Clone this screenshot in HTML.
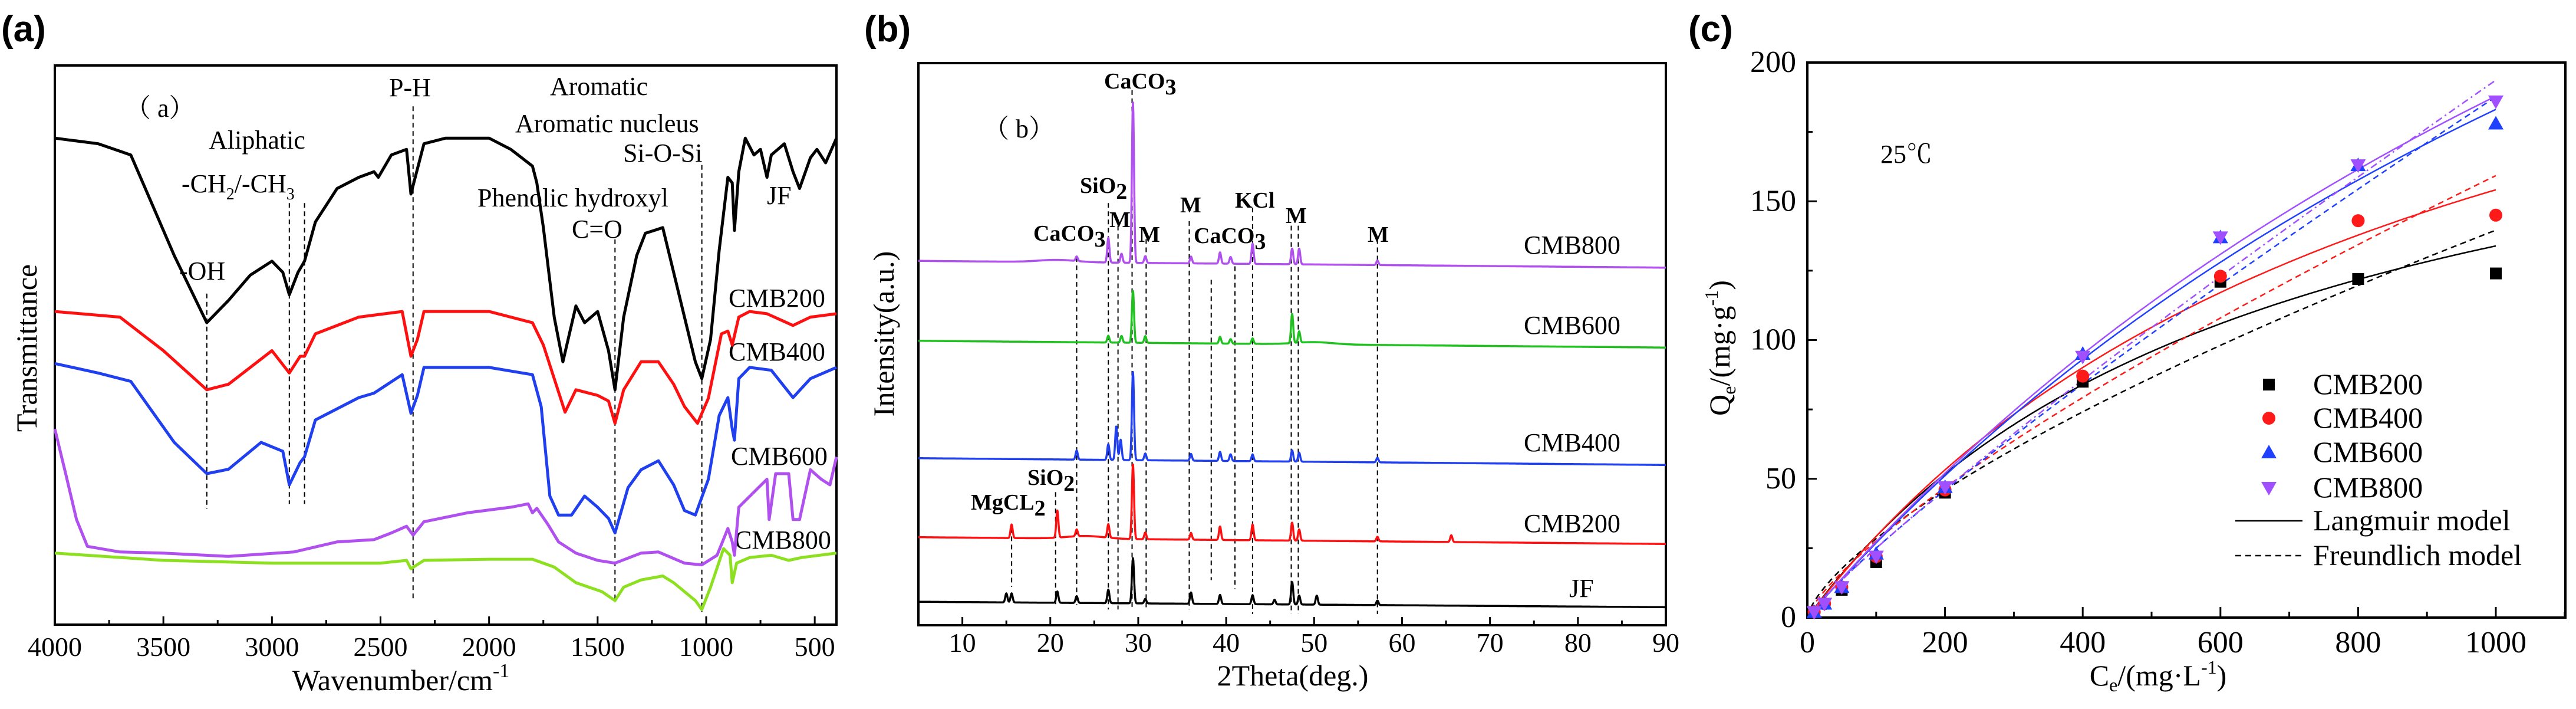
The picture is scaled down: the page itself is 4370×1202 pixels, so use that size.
<!DOCTYPE html>
<html><head><meta charset="utf-8"><style>
html,body{margin:0;padding:0;background:#fff;overflow:hidden;}
svg{display:block;}
text{font-family:"Liberation Serif","Noto Serif CJK SC",serif;fill:#000;}
.pl{font-family:"Liberation Sans",sans-serif;font-weight:bold;font-size:62px;}
.an{font-size:44px;}
.bd{font-weight:bold;font-size:38px;}
.tk{font-size:46px;}
.ti{font-size:50px;}
</style></head><body>
<svg id="fig" width="4370" height="1202" viewBox="0 0 4370 1202" xmlns="http://www.w3.org/2000/svg">
<text class="pl" x="2" y="70">(a)</text>
<text class="pl" x="1466" y="70">(b)</text>
<text class="pl" x="2864" y="70">(c)</text>

<g id="pa">
<rect x="93" y="111" width="1326" height="948" fill="none" stroke="#000" stroke-width="4"/>
<text class="an" x="212" y="198">（ a）</text>
<text class="an" x="436" y="252" text-anchor="middle">Aliphatic</text>
<text class="an" x="308" y="326">-CH<tspan font-size="28" dy="12">2</tspan><tspan dy="-12">/-CH</tspan><tspan font-size="28" dy="12">3</tspan></text>
<text class="an" x="304" y="474">-OH</text>
<text class="an" x="660" y="163">P-H</text>
<text class="an" x="933" y="161">Aromatic</text>
<text class="an" x="874" y="224">Aromatic nucleus</text>
<text class="an" x="1057" y="274">Si-O-Si</text>
<text class="an" x="810" y="350">Phenolic hydroxyl</text>
<text class="an" x="970" y="403">C=O</text>
<text class="an" x="1301" y="346">JF</text>
<text class="an" x="1236" y="520">CMB200</text>
<text class="an" x="1236" y="611">CMB400</text>
<text class="an" x="1240" y="788">CMB600</text>
<text class="an" x="1246" y="930">CMB800</text>
<text class="ti" x="680" y="1170" text-anchor="middle">Wavenumber/cm<tspan font-size="34" dy="-22">-1</tspan></text>
<text class="ti" transform="translate(62,590) rotate(-90)" text-anchor="middle">Transmittance</text>
</g>

<g id="pb">
<rect x="1558" y="107" width="1268" height="953" fill="none" stroke="#000" stroke-width="4"/>
<text class="an" x="1668" y="233">（ b）</text>
<text class="bd" x="1873" y="150">CaCO<tspan dy="10">3</tspan></text>
<text class="bd" x="1832" y="327">SiO<tspan dy="10">2</tspan></text>
<text class="bd" x="1882" y="385">M</text>
<text class="bd" x="1753" y="408">CaCO<tspan dy="10">3</tspan></text>
<text class="bd" x="1932" y="410">M</text>
<text class="bd" x="2002" y="360">M</text>
<text class="bd" x="2025" y="412">CaCO<tspan dy="10">3</tspan></text>
<text class="bd" x="2095" y="352">KCl</text>
<text class="bd" x="2181" y="378" font-size="44">M</text>
<text class="bd" x="2320" y="410" font-size="44">M</text>
<text class="bd" x="1647" y="864" font-size="34">MgCL<tspan dy="10">2</tspan></text>
<text class="bd" x="1743" y="822">SiO<tspan dy="10">2</tspan></text>
<text class="an" x="2585" y="430">CMB800</text>
<text class="an" x="2585" y="566">CMB600</text>
<text class="an" x="2585" y="765">CMB400</text>
<text class="an" x="2585" y="902">CMB200</text>
<text class="an" x="2662" y="1012">JF</text>
<text class="ti" x="2193" y="1162" text-anchor="middle">2Theta(deg.)</text>
<text class="ti" transform="translate(1516,566) rotate(-90)" text-anchor="middle">Intensity(a.u.)</text>
</g>

<g id="pc">
<rect x="3066" y="106" width="1286" height="941" fill="none" stroke="#000" stroke-width="4"/>
<text class="an" x="3190" y="276" font-size="48">25℃</text>
<text class="ti" x="3661" y="1162" text-anchor="middle" font-size="52">C<tspan font-size="32" dy="10">e</tspan><tspan dy="-10">/(mg·L</tspan><tspan font-size="32" dy="-20">-1</tspan><tspan dy="20">)</tspan></text>
<text class="ti" transform="translate(2934,590) rotate(-90)" text-anchor="middle" font-size="52">Q<tspan font-size="32" dy="10">e</tspan><tspan dy="-10">/(mg·g</tspan><tspan font-size="32" dy="-20">-1</tspan><tspan dy="20">)</tspan></text>
</g>
</svg>
<script>
// ---------- FTIR data ----------
const jfWn=[4000,3800,3650,3550,3450,3300,3200,3100,3000,2950,2920,2880,2850,2800,2700,2600,2530,2510,2450,2380,2360,2340,2300,2200,2000,1900,1800,1780,1750,1700,1660,1600,1560,1500,1450,1420,1380,1320,1280,1240,1200,1150,1100,1050,1020,980,940,900,880,870,850,820,780,750,720,700,640,600,570,520,490,450,400];
const jfT=[87,86,84,75,66,54,58,62.5,65,63,59,63,65,72,78,80,81,80,84,85,77,80,86,87,87,85,82,79,71,55,47,57,54,56,49,42,55,66,70,70.5,71,63,55,47,44,51,67,80,79,70.5,81,87,84,85,80,84,86,81,78,83.5,85,82.6,87];
const c200Wn=[4000,3700,3500,3300,3200,3000,2920,2870,2850,2800,2600,2400,2360,2330,2300,2000,1800,1750,1700,1650,1600,1500,1450,1420,1380,1300,1220,1150,1100,1040,990,930,900,880,850,800,720,600,520,400];
const c200T=[56,55,49,42,43,49,45,48,48,52,55,56,48,51,56,56,54,50,44,38,42,41,40,36,42,47,47,43,39,36,40.5,52,52.5,50,55,56,55.6,53.5,55,55.6];
const c400Wn=[4000,3800,3650,3450,3300,3200,3050,2950,2920,2870,2850,2800,2600,2530,2400,2360,2330,2300,2000,1800,1760,1720,1680,1620,1560,1500,1450,1420,1360,1300,1220,1150,1100,1050,990,940,900,880,870,850,800,700,600,520,400];
const c400T=[46.7,45,43.5,32.6,27,27.8,32.6,31,25,29,30,36.6,40.6,41.4,44.7,37.8,41,46,46,44.7,39,23,19.6,19.6,23,21,19,16.4,24.5,27.7,29.3,25,20.4,19.6,26,37.4,40.6,35,33,44,46,45.5,40.6,44,46];
const c600Wn=[4000,3950,3900,3850,3700,3500,3200,2900,2700,2530,2450,2380,2350,2300,2100,1900,1820,1800,1780,1730,1680,1600,1500,1420,1300,1220,1100,1020,950,900,880,870,850,780,720,710,680,620,600,570,520,470,430,400];
const c600T=[35,27,18.8,14,13,12.8,12.2,13,14.8,15.2,16.4,17.6,16,18.4,20,21,21.6,20,20.8,18,14.8,12.8,11.5,11,12.8,13,11,10.7,12.4,17.2,14.8,12.4,21,23.7,26,18.8,27,27,18.8,18.8,27.7,26,25,30];
const c800Wn=[4000,3500,3000,2500,2380,2360,2300,2000,1800,1700,1600,1480,1420,1380,1300,1200,1150,1050,1020,980,920,890,880,860,800,700,620,560,400];
const c800T=[12.8,11.5,11,11,11.5,10,11.5,11.7,11.7,10.3,7.5,5.9,4.3,6.7,8,8.7,7.5,4.3,2.7,6.7,13.6,12.4,7.5,11,12,12.4,11.5,12,12.8];
const ftirTicks=[4000,3500,3000,2500,2000,1500,1000,500];
const ftirGuideWn=[3300,2920,2850,2350,1420,1020];
const ftirGuideTop=[59.2,75.4,75.4,92.7,68.9,82.2];
const ftirGuideBot=[20.7,21.6,21.6,4.3,3.9,2.3];

// ---------- XRD data ----------
const xrdTicks=[10,20,30,40,50,60,70,80,90];
const jfBase=[52,40];
const jfPos=[15,15.6,20.8,23,26.6,29.4,30.8,36,39.3,43,45.5,47.5,48.3,50.3,57.2];
const jfH=[20,20,25,15,30,100,10,25,20,20,10,50,20,20,10];
const x200Base=[195,180];
const x200Pos=[15.6,20.8,23,24,26.6,29.4,30.8,36,39.3,43,47.5,48.3,57.2,65.6];
const x200H=[30,60,15,6,30,165,15,15,30,35,40,25,10,15];
const x400Base=[370,355];
const x400Pos=[23,26.6,27.5,28,29.4,30.8,36,39.3,40.5,43,47.5,48.3,57.2];
const x400H=[20,35,75,45,195,15,15,20,15,15,25,20,10];
const x600Base=[630,615];
const x600Pos=[26.6,28.1,29.4,30.8,39.3,40.5,43,47.5,48.3,50];
const x600H=[15,15,115,15,15,10,12,65,25,5];
const x800Base=[807,792];
const x800Pos=[20.8,23,26.6,28.1,29.4,30.8,36,39.3,40.5,43,47.5,48.3,57.2];
const x800H=[5,10,55,20,355,15,15,25,15,45,35,35,10];
const xrdGuidePos=[15.6,20.6,23,26.6,27.7,29.3,30.9,35.8,38.3,41,43,47.4,48.2,57.2];
const xrdGuideTop=[215,295,815,935,885,1185,855,895,765,795,925,885,885,855];
const xrdGuideBot=[85,45,45,35,35,35,35,35,100,80,25,25,25,25];

// ---------- Isotherm data ----------
const ce=[10,25,50,100,200,400,600,800,1000];
const q200=[2,5,10,20,45,85,121,122,124];
const q400=[2,5,11,22,46,87,123,143,145];
const q600=[2,5,11,23,47,95,137,163,178];
const q800=[2,5,11,22,47,94,137,163,186];
const langQm=[222,293,516,541];
const langK=[0.00152,0.00111,0.00055,0.000532];
const freKf=[1.18,0.83,0.445,0.414];
const freN=[0.691,0.761,0.875,0.89];
const cTicksX=[0,200,400,600,800,1000];
const cTicksY=[0,50,100,150,200];
const seriesNames=['CMB200','CMB400','CMB600','CMB800'];

const NS='http://www.w3.org/2000/svg';
const svgRoot=document.getElementById('fig');
function mk(tag,attrs,parent){const e=document.createElementNS(NS,tag);for(const k in attrs)e.setAttribute(k,attrs[k]);(parent||svgRoot).appendChild(e);return e;}

// scales
const xa=w=>93+(4000-w)*(1326/3600);
const ya=v=>1059-v*9.48;
const xb=d=>1558+(d-5)*(1268/85);
const yb=v=>1060-v*(953/1245);
const xc=c=>3066+c*1.168;
const yc=q=>1047-q*(941/200);

const ga=document.getElementById('pa'),gb=document.getElementById('pb'),gc=document.getElementById('pc');

// FTIR guides
ftirGuideWn.forEach((w,i)=>{
  const l=mk('line',{x1:xa(w),x2:xa(w),y1:ya(ftirGuideTop[i]),y2:ya(ftirGuideBot[i]),stroke:'#000','stroke-width':2,'stroke-dasharray':'8,6'},ga);
  
  
});
// FTIR series
[[jfWn,jfT,'#000','ftir-jf'],[c200Wn,c200T,'#ff1010','ftir-cmb200'],[c400Wn,c400T,'#2040f0','ftir-cmb400'],[c600Wn,c600T,'#b050ee','ftir-cmb600'],[c800Wn,c800T,'#8de020','ftir-cmb800']].forEach(s=>{
  const d=s[0].map((w,i)=>(i?'L':'M')+xa(w).toFixed(1)+' '+ya(s[1][i]).toFixed(1)).join(' ');
  const p=mk('path',{d:d,fill:'none',stroke:s[2],'stroke-width':5,'stroke-linejoin':'round'},ga);
  
  
});
// FTIR ticks
for(let w=4000;w>=400;w-=250){
  const major=w%500===0;
  const t=mk('line',{x1:xa(w),x2:xa(w),y1:1059,y2:1059-(major?14:8),stroke:'#000','stroke-width':3},ga);
  
  
}
ftirTicks.forEach(w=>{
  const t=mk('text',{x:xa(w),y:1112,'text-anchor':'middle',class:'tk'},ga);
  t.textContent=w;
  
  
});

// XRD guides
xrdGuidePos.forEach((d,i)=>{
  const l=mk('line',{x1:xb(d),x2:xb(d),y1:yb(xrdGuideTop[i]),y2:yb(xrdGuideBot[i]),stroke:'#000','stroke-width':2,'stroke-dasharray':'8,6'},gb);
  
  
});
// XRD series
[[jfBase,jfPos,jfH,'#000','xrd-jf'],[x200Base,x200Pos,x200H,'#ff1010','xrd-cmb200'],[x400Base,x400Pos,x400H,'#2040f0','xrd-cmb400'],[x600Base,x600Pos,x600H,'#20c020','xrd-cmb600'],[x800Base,x800Pos,x800H,'#b050ee','xrd-cmb800']].forEach(s=>{
  let d='';
  for(let t=5;t<=90.001;t+=0.04){
    let v=s[0][0]+(s[0][1]-s[0][0])*(t-5)/85;
    s[1].forEach((pk,j)=>{const wd=s[2][j]<10?3:0.17;const z=(t-pk)/wd;v+=s[2][j]*Math.exp(-(z*z));});
    d+=(d?'L':'M')+xb(t).toFixed(1)+' '+yb(v).toFixed(1)+' ';
  }
  const p=mk('path',{d:d,fill:'none',stroke:s[3],'stroke-width':3.5,'stroke-linejoin':'round'},gb);
  
  
});
for(let t=5;t<=90;t+=5){
  const major=t%10===0;
  const k=mk('line',{x1:xb(t),x2:xb(t),y1:1060,y2:1060-(major?14:8),stroke:'#000','stroke-width':3},gb);
  
  
}
xrdTicks.forEach(t=>{
  const e=mk('text',{x:xb(t),y:1105,'text-anchor':'middle',class:'tk'},gb);
  e.textContent=t;
  
  
});

// Isotherm ticks
for(let c=0;c<=1100;c+=100){
  const major=c%200===0;
  const k=mk('line',{x1:xc(c),x2:xc(c),y1:1047,y2:1047-(major?18:10),stroke:'#000','stroke-width':3},gc);
  
  
}
for(let q=0;q<=200;q+=25){
  const major=q%50===0;
  const k=mk('line',{x1:3066,x2:3066+(major?16:9),y1:yc(q),y2:yc(q),stroke:'#000','stroke-width':3},gc);
  
  
}
cTicksX.forEach(c=>{
  const e=mk('text',{x:xc(c),y:1106,'text-anchor':'middle',class:'tk',style:'font-size:52px'},gc);
  e.textContent=c;
  
  
});
cTicksY.forEach(q=>{
  const e=mk('text',{x:3047,y:yc(q)+16,'text-anchor':'end',class:'tk',style:'font-size:52px'},gc);
  e.textContent=q;
  
  
});
const cColors=['#000','#ff1a1a','#2040ff','#a050ff'];
// fit curves
for(let i=0;i<4;i++){
  let dl='',df='';
  for(let c=5;c<=1000;c+=5){
    const ql=langQm[i]*langK[i]*c/(1+langK[i]*c);
    const qf=freKf[i]*Math.pow(c,freN[i]);
    dl+=(dl?'L':'M')+xc(c).toFixed(1)+' '+yc(ql).toFixed(1)+' ';
    df+=(df?'L':'M')+xc(c).toFixed(1)+' '+yc(qf).toFixed(1)+' ';
  }
  const pl=mk('path',{d:dl,fill:'none',stroke:cColors[i],'stroke-width':2.5},gc);
  
  
  const pf=mk('path',{d:df,fill:'none',stroke:cColors[i],'stroke-width':2.5,'stroke-dasharray':i===3?'12,6,3,6':'10,7'},gc);
  
  
}
function marker(kind,x,y,col,parent){
  let e;
  if(kind===0)e=mk('rect',{x:x-10,y:y-10,width:20,height:20,fill:col},parent);
  else if(kind===1)e=mk('circle',{cx:x,cy:y,r:11,fill:col},parent);
  else if(kind===2)e=mk('path',{d:`M${x} ${y-13}L${x+13} ${y+10}L${x-13} ${y+10}Z`,fill:col},parent);
  else e=mk('path',{d:`M${x} ${y+13}L${x+13} ${y-10}L${x-13} ${y-10}Z`,fill:col},parent);
  return e;
}
[q200,q400,q600,q800].forEach((qs,i)=>{
  qs.forEach((q,j)=>{
    const m=marker(i,xc(ce[j]),yc(q),cColors[i],gc);
    
    
  });
});
// legend
const legY=[652,709,767,827];
seriesNames.forEach((n,i)=>{
  const m=marker(i,3849,legY[i],cColors[i],gc);
  
  
  const t=mk('text',{x:3924,y:legY[i]+16,style:'font-size:50px'},gc);
  t.textContent=n;
  
  
});
const l1=mk('line',{x1:3792,x2:3906,y1:883,y2:883,stroke:'#000','stroke-width':2.5},gc);


const t1=mk('text',{x:3924,y:899,style:'font-size:50px'},gc);
t1.textContent='Langmuir model';


const l2=mk('line',{x1:3792,x2:3906,y1:942,y2:942,stroke:'#000','stroke-width':2.5,'stroke-dasharray':'10,7'},gc);


const t2=mk('text',{x:3924,y:958,style:'font-size:50px'},gc);
t2.textContent='Freundlich model';


</script>
</body></html>
